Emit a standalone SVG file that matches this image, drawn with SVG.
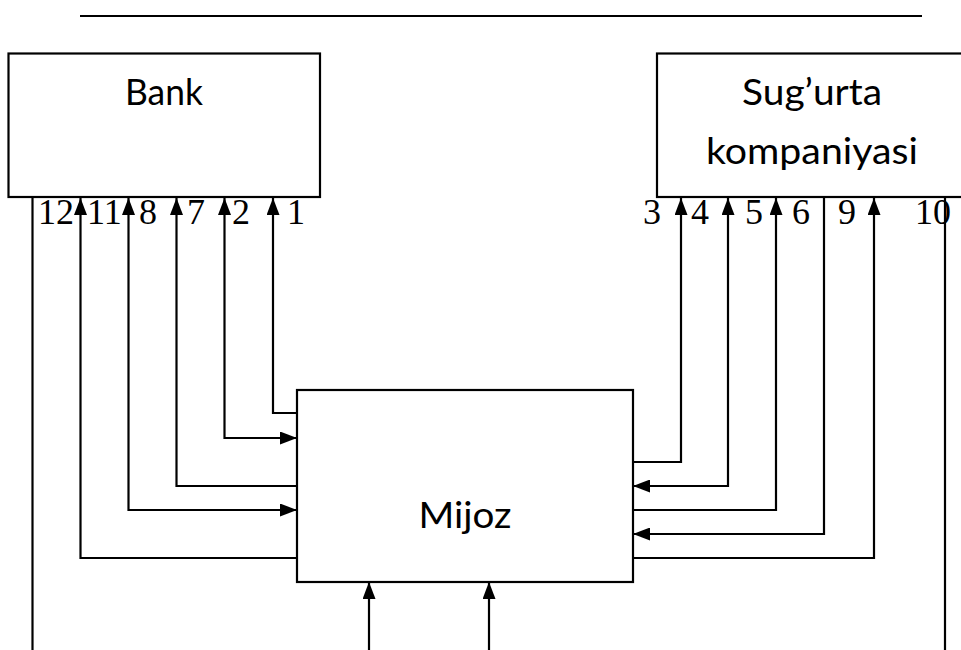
<svg xmlns="http://www.w3.org/2000/svg" width="961" height="650" viewBox="0 0 961 650">
<style>
.box{fill:#fff;stroke:#000;stroke-width:2.2}
.lbl{font-family:Lato,"Open Sans",sans-serif;font-size:37px;fill:#000;text-anchor:middle}
.num{font-family:"Liberation Serif","Times New Roman",serif;font-size:36px;fill:#000}
.ln{fill:none;stroke:#000;stroke-width:2.2}
.a1{marker-end:url(#ah)}
.a2{marker-start:url(#ahs);marker-end:url(#ah)}
</style>
<defs>
<marker id="ah" viewBox="0 0 17 13" refX="17" refY="6.5" markerWidth="17" markerHeight="13" markerUnits="userSpaceOnUse" orient="auto">
<path d="M0,0 L17,6.5 L0,13 z" fill="#000"/>
</marker>
<marker id="ahs" viewBox="0 0 17 13" refX="0" refY="6.5" markerWidth="17" markerHeight="13" markerUnits="userSpaceOnUse" orient="auto">
<path d="M17,0 L0,6.5 L17,13 z" fill="#000"/>
</marker>
</defs>
<line x1="80" y1="16" x2="922" y2="16" stroke="#000" stroke-width="2"/>
<g id="bank">
<rect class="box" x="8.5" y="53.5" width="311.5" height="143.5"/>
<text class="lbl" x="164" y="105" textLength="78" lengthAdjust="spacingAndGlyphs">Bank</text>
</g>
<g id="sugurta">
<rect class="box" x="657" y="53.5" width="312" height="143.5"/>
<text class="lbl" x="812" y="105" textLength="140" lengthAdjust="spacingAndGlyphs">Sug’urta</text>
<text class="lbl" x="812" y="164" textLength="212" lengthAdjust="spacingAndGlyphs">kompaniyasi</text>
</g>
<g id="mijoz">
<rect class="box" x="297" y="390" width="336" height="192"/>
<text class="lbl" x="465" y="528" textLength="93" lengthAdjust="spacingAndGlyphs">Mijoz</text>
</g>
<g id="connectors">
<path class="ln" d="M32.5,197 V650"/>
<path class="ln a1" d="M297,558 H80.5 V198"/>
<path class="ln a2" d="M128.5,198 V510 H297"/>
<path class="ln a1" d="M297,486 H176.5 V198"/>
<path class="ln a2" d="M224.5,198 V438 H297"/>
<path class="ln a1" d="M297,413 H273 V198"/>
<path class="ln a1" d="M633,462 H681 V198"/>
<path class="ln a2" d="M728,198 V486 H633"/>
<path class="ln a1" d="M633,510 H776 V198"/>
<path class="ln a1" d="M824,197 V534 H633"/>
<path class="ln a1" d="M633,558 H874 V198"/>
<path class="ln" d="M945,197 V650"/>
<path class="ln a1" d="M369,650 V582"/>
<path class="ln a1" d="M489,650 V582"/>
</g>
<g id="labels">
<text class="num" x="38" y="224">12</text>
<text class="num" x="87" y="224">11</text>
<text class="num" x="139" y="224">8</text>
<text class="num" x="187" y="224">7</text>
<text class="num" x="232" y="224">2</text>
<text class="num" x="287" y="224">1</text>
<text class="num" x="643" y="224">3</text>
<text class="num" x="691" y="224">4</text>
<text class="num" x="745" y="224">5</text>
<text class="num" x="792" y="224">6</text>
<text class="num" x="838" y="224">9</text>
<text class="num" x="915" y="224">10</text>
</g>
</svg>
